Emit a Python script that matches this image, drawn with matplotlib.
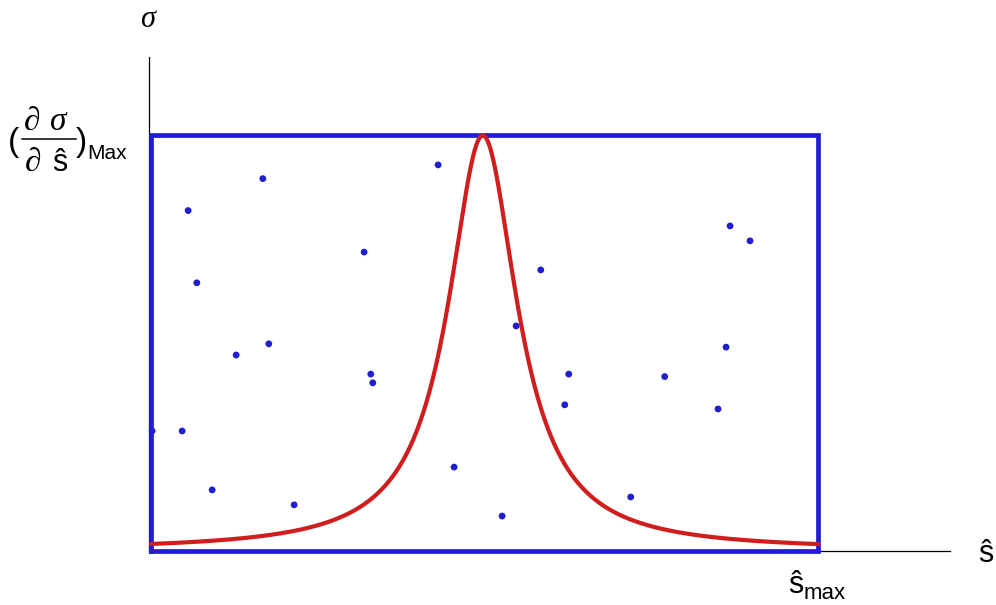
import numpy as np
import matplotlib.pyplot as plt
from matplotlib.lines import Line2D

plt.rcParams['font.family'] = ['Liberation Sans', 'DejaVu Sans']

# sampled points (s_hat / s_max, sigma / max)
dot_x = [0.001, 0.046, 0.055, 0.068, 0.091, 0.127, 0.167, 0.176, 0.214, 0.319,
         0.329, 0.332, 0.430, 0.454, 0.526, 0.547, 0.584, 0.620, 0.626, 0.719,
         0.770, 0.850, 0.862, 0.868, 0.898]
dot_y = [0.288, 0.288, 0.819, 0.645, 0.146, 0.471, 0.896, 0.498, 0.110, 0.719,
         0.425, 0.404, 0.929, 0.201, 0.083, 0.541, 0.676, 0.351, 0.425, 0.129,
         0.419, 0.341, 0.490, 0.782, 0.746]

# resonance shape
peak_pos = 0.497
peak_width = 0.063
peak_height = 1.0
s_max = 1.0

blue = '#1f1fcf'
red = '#d01d1d'

W, H = 996, 605
fig = plt.figure(figsize=(W / 100, H / 100), dpi=100)
ax = fig.add_axes([148.5 / W, 54 / H, 801.5 / W, 494 / H])
ax.set_xlim(-0.0045, 1.198)
ax.set_ylim(-0.0012, 1.189)

s = np.linspace(0, s_max, 600)
curve = peak_height * peak_width ** 2 / ((s - peak_pos) ** 2 + peak_width ** 2)

ax.plot([0, s_max, s_max, 0, 0], [0, 0, peak_height, peak_height, 0],
        color=blue, lw=3.4, solid_joinstyle='miter', zorder=3, clip_on=False)
ax.plot(s, curve, color=red, lw=3.0, zorder=4, clip_on=False)
ax.scatter(dot_x, dot_y, s=24, color=blue, edgecolor='none', zorder=5, clip_on=False)

for side in ['top', 'right']:
    ax.spines[side].set_visible(False)
for side in ['left', 'bottom']:
    ax.spines[side].set_linewidth(0.9)
ax.set_xticks([])
ax.set_yticks([])


def px_text(x, y, txt, **kw):
    # place text by pixel position (y measured from the top)
    fig.text(x / W, 1 - y / H, txt, ha='left', va='baseline', **kw)


serif_it = dict(family='Liberation Serif', style='italic')

# sigma axis label
px_text(140, 27, 'σ', fontsize=22, **serif_it)

# (d sigma / d s)_Max on the upper y level
px_text(8, 151, '(', fontsize=24)
px_text(24, 130, '∂', fontsize=24, **serif_it)
px_text(50, 130, 'σ', fontsize=24, **serif_it)
fig.add_artist(Line2D([22 / W, 76 / W], [1 - 139 / H, 1 - 139 / H],
                      color='black', lw=1.1, transform=fig.transFigure))
px_text(25, 171, '∂', fontsize=24, **serif_it)
px_text(52, 171, 'ŝ', fontsize=22)
px_text(76, 151, ')', fontsize=24)
px_text(87, 159, 'Max', fontsize=15)

# s axis label and s_max
px_text(978, 562, 'ŝ', fontsize=22)
px_text(788, 593, 'ŝ', fontsize=22)
px_text(804, 599, 'max', fontsize=16)

fig.savefig('out.png', dpi=100)
